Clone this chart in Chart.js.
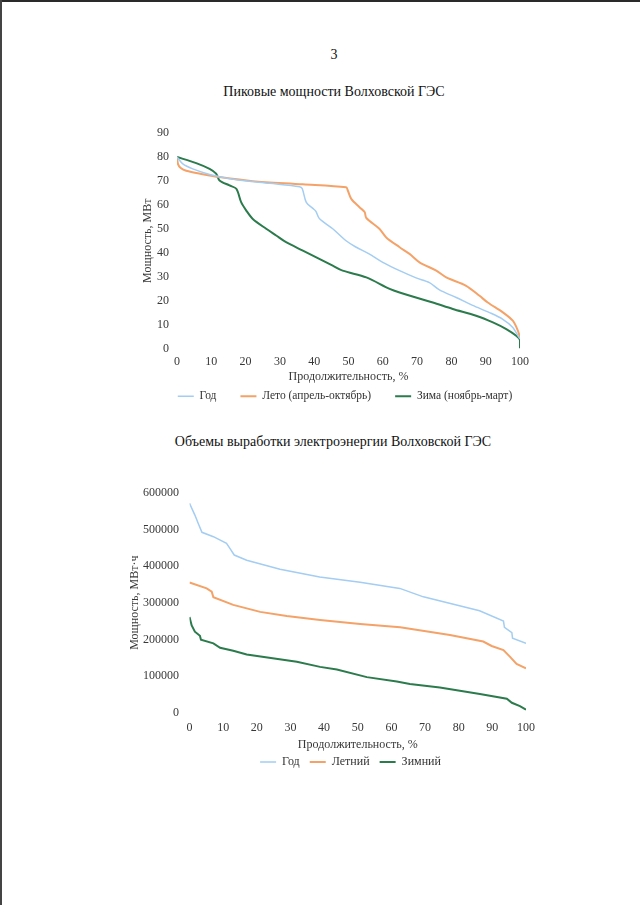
<!DOCTYPE html>
<html lang="ru">
<head>
<meta charset="utf-8">
<script src="https://cdn.jsdelivr.net/npm/chart.js@4.4.1/dist/chart.umd.min.js"></script>
<style>
  html, body { margin: 0; padding: 0; background: #fff; }
  body { width: 640px; height: 905px; position: relative; overflow: hidden; font-family: "Liberation Serif", "Times New Roman", serif; color: #111; }
  .edge-top { position: absolute; left: 0; top: 0; width: 640px; height: 2px; background: #2a2a2a; }
  .edge-left { position: absolute; left: 0; top: 0; width: 2px; height: 905px; background: #444; }
  .txt { position: absolute; left: 0; width: 668px; text-align: center; font-size: 14px; line-height: 16px; }
  canvas { position: absolute; left: 0; }
</style>
</head>
<body>
<div class="edge-top"></div>
<div class="edge-left"></div>
<div class="txt" style="top:47px">3</div>
<div class="txt" style="top:84px">Пиковые мощности Волховской ГЭС</div>
<div class="txt" style="top:434px; width:666px">Объемы выработки электроэнергии Волховской ГЭС</div>
<canvas id="peak" width="640" height="420" style="top:0"></canvas>
<canvas id="energy" width="640" height="485" style="top:420px"></canvas>
<script>
// --- peak capacity (МВт) vs duration (%) ---
const peakLabels = ['Год', 'Лето (апрель-октябрь)', 'Зима (ноябрь-март)'];
const peakYearX = [0, 1.7, 4.6, 9.5, 17.3, 27, 35.7, 36.5, 37.7, 39.6, 40.5, 41.5, 45.4, 49.3, 52, 56, 60, 64.9, 69.7, 73.6, 76.5, 81.4, 86.2, 91.1, 95, 97.9, 99.4, 100];
const peakYearY = [80, 77.1, 75, 72.7, 70.5, 69, 67.6, 66.8, 61, 58.5, 57.3, 54.3, 50, 45, 42.5, 39.5, 36, 32.5, 29.5, 27.5, 24.5, 21.3, 18, 15, 12.2, 8.8, 5.3, 4];
const peakSummerX = [0, 0.3, 1, 2.7, 7.5, 12.4, 22.1, 36.7, 49.3, 49.8, 50.8, 53.2, 54.7, 55.2, 59, 61, 64.9, 67.8, 70.7, 75.6, 78.5, 84.3, 88.2, 90.6, 95, 97.9, 99.4, 100];
const peakSummerY = [80, 77, 75.5, 74.2, 72.8, 71.6, 69.9, 68.6, 67.3, 66, 62.5, 59, 57, 54.5, 50, 46.4, 42.3, 39.5, 36, 32.5, 29.7, 26.2, 22, 19.2, 15.1, 11.6, 7.4, 4.6];
const peakWinterX = [0, 5.6, 9.5, 11.4, 12.4, 15.3, 17.3, 18.7, 20.2, 22.1, 26, 28.9, 31.8, 36.7, 45.4, 48.3, 55.2, 62, 64.9, 74.6, 80.4, 87.2, 92.1, 96, 98.9, 100, 100];
const peakWinterY = [80, 77.4, 75, 73, 70.2, 68.1, 66.7, 61.1, 57.6, 54.1, 50, 47.2, 44.4, 40.9, 34.6, 32.5, 29.7, 24.9, 23.4, 19.2, 16.5, 13.7, 10.9, 8.1, 5.3, 3.5, 0];

// --- energy output (МВт·ч) vs duration (%) ---
const energyLabels = ['Год', 'Летний', 'Зимний'];
const energyYearX = [0, 1.6, 2.6, 3.7, 7.1, 11, 12, 13.3, 17, 26.9, 38.7, 50.7, 62.5, 69.5, 86.2, 93.3, 93.6, 95.8, 96, 100];
const energyYearY = [571000, 539000, 516000, 492000, 480000, 462000, 448000, 430000, 416000, 391000, 370000, 356000, 339000, 316000, 278000, 250000, 233000, 218000, 203000, 189000];
const energySummerX = [0, 5.1, 6.6, 7.1, 13, 21, 28.9, 38.8, 50.7, 62.6, 77.4, 87.3, 89.8, 93.3, 95.2, 97.2, 100];
const energySummerY = [355000, 339000, 330000, 315000, 294000, 275000, 264000, 253000, 242000, 233000, 212000, 194000, 182000, 171000, 153000, 133000, 121000];
const energyWinterX = [0, 0.65, 1.6, 3.1, 3.4, 7.1, 9.1, 13, 17, 31.9, 38.8, 43.8, 52.7, 61.6, 65.5, 74.4, 86.3, 94.3, 95.8, 98.2, 100];
const energyWinterY = [261000, 238000, 221000, 210000, 199000, 189000, 177000, 169000, 159000, 139000, 125000, 118000, 97000, 85000, 78000, 69000, 51000, 38000, 27000, 18000, 8000];

const blue = '#a3cdf2';
const orange = '#f4a268';
const green = '#2b7b4c';

Chart.defaults.font.family = "'Liberation Serif', 'Times New Roman', serif";
Chart.defaults.font.size = 12;
Chart.defaults.color = '#383838';

function curve(xs, ys) {
  return xs.map((x, i) => ({ x: x, y: ys[i] }));
}

function series(label, xs, ys, color, width, tension) {
  return {
    label: label,
    data: curve(xs, ys),
    borderColor: color,
    backgroundColor: color,
    borderWidth: width,
    showLine: true,
    fill: false,
    pointRadius: 0,
    tension: tension
  };
}

// x axis: fixed height, right padding pushes the plot edge in
function axisX(tickPad, height, titleBottom, rightPad) {
  return {
    type: 'linear', min: 0, max: 100,
    ticks: { stepSize: 10, padding: tickPad, maxRotation: 0, autoSkip: false },
    grid: { display: false, drawTicks: false },
    border: { display: false },
    title: { display: true, text: 'Продолжительность, %', padding: { top: 0, bottom: titleBottom } },
    afterFit(s) { s.height = height; s.paddingLeft = 0; s.paddingRight = rightPad; }
  };
}

function axisY(max, step, tickPad, width, text, titleTop) {
  return {
    min: 0, max: max,
    ticks: { stepSize: step, padding: tickPad, autoSkip: false, callback: v => String(v) },
    grid: { display: false, drawTicks: false },
    border: { display: false },
    title: { display: true, text: text, padding: { top: titleTop, bottom: 0 } },
    afterFit(s) { s.width = width; s.paddingTop = 0; s.paddingBottom = 0; }
  };
}

function legend(pad, size) {
  return {
    position: 'bottom',
    labels: { usePointStyle: true, pointStyle: 'line', pointStyleWidth: 16, padding: pad, color: '#333', font: { size: size } }
  };
}

new Chart(document.getElementById('peak'), {
  type: 'scatter',
  data: {
    datasets: [
      series(peakLabels[0], peakYearX, peakYearY, blue, 1.5, 0.3),
      series(peakLabels[1], peakSummerX, peakSummerY, orange, 2, 0.3),
      series(peakLabels[2], peakWinterX, peakWinterY, green, 2, 0.3)
    ]
  },
  options: {
    responsive: false,
    animation: false,
    layout: { padding: { top: 133, left: 50, right: 0, bottom: 8 } },
    plugins: { legend: legend(24, 11.5), tooltip: { enabled: false } },
    scales: {
      x: axisX(6, 18, -18, 120),
      y: axisY(90, 10, 8, 127, 'Мощность, МВт', 90.8)
    }
  }
});

new Chart(document.getElementById('energy'), {
  type: 'scatter',
  data: {
    datasets: [
      series(energyLabels[0], energyYearX, energyYearY, blue, 1.5, 0),
      series(energyLabels[1], energySummerX, energySummerY, orange, 2, 0),
      series(energyLabels[2], energyWinterX, energyWinterY, green, 2, 0)
    ]
  },
  options: {
    responsive: false,
    animation: false,
    layout: { padding: { top: 72.7, left: 61, right: 0, bottom: 127 } },
    plugins: { legend: legend(10, 12), tooltip: { enabled: false } },
    scales: {
      x: axisX(8, 33.3, -6.2, 114),
      y: axisY(600000, 100000, 10.5, 128.5, 'Мощность, МВт·ч', 66.8)
    }
  }
});
</script>
</body>
</html>
